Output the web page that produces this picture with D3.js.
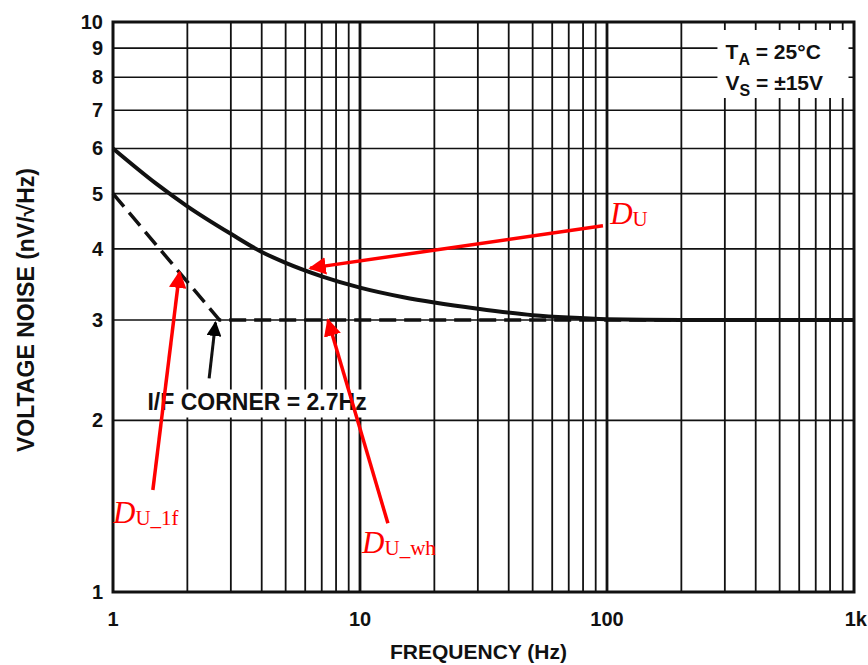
<meta charset="utf-8" />
<style>body { margin: 0; } svg { display: block; }</style>
<svg width="868" height="665"></svg>
<script src="https://cdn.jsdelivr.net/npm/d3@7"></script>
<script>
	// solid curve (total noise)
	var freqTotal = [1, 1.5, 2, 3, 4, 5, 7, 10, 15, 20, 30, 50, 70, 100, 200, 1000];
	var noiseTotal = [6.0, 5.2, 4.75, 4.25, 3.95, 3.78, 3.58, 3.42, 3.29, 3.22, 3.14, 3.06, 3.03, 3.01, 3.0, 3.0];

	// dashed asymptotes: 1/f part and white part
	var freqAsym = [1, 2.7, 1000];
	var noiseAsym = [5.0, 3.0, 3.0];

	var yTicks = [1, 2, 3, 4, 5, 6, 7, 8, 9, 10];
	var xLabels = [[1, '1'], [10, '10'], [100, '100'], [1000, '1k']];

	// annotation arrows [fromF, fromV, toF, toV]
	var redArrows = [
		[96.3, 4.39, 6.28, 3.7],
		[1.45, 1.51, 1.86, 3.64],
		[12.97, 1.32, 7.42, 3.0]
	];
	var cornerArrow = [2.45, 2.37, 2.6, 2.97];

	// red labels [f, value, subscript]
	var redLabels = [[103, 4.42, 'U'], [1, 1.32, 'U_1f'], [10.2, 1.17, 'U_wh']];

	var svg = d3.select('svg'),
		margin = { left: 113, right: 14, top: 22, bottom: 73 },
		width = +svg.attr('width') - margin.left - margin.right,
		height = +svg.attr('height') - margin.top - margin.bottom;

	svg.append('rect').attr('width', 868).attr('height', 665).attr('fill', '#fff');

	var x = d3.scaleLog().domain([1, 1000]).range([0, width]);
	var y = d3.scaleLog().domain([1, 10]).range([height, 0]);

	var g = svg.append('g').attr('transform', 'translate(' + margin.left + ',' + margin.top + ')');

	var defs = svg.append('defs');
	function marker(id, color) {
		defs.append('marker')
			.attr('id', id)
			.attr('viewBox', '0 0 10 10')
			.attr('refX', 9).attr('refY', 5)
			.attr('markerWidth', 5).attr('markerHeight', 5)
			.attr('markerUnits', 'strokeWidth')
			.attr('orient', 'auto')
			.append('path').attr('d', 'M0,0L10,5L0,10z').attr('fill', color);
	}
	marker('redHead', '#ff0000');
	marker('blackHead', '#000');

	// grid
	var xGrid = [];
	[1, 10, 100].forEach(d => { for (var i = 1; i < 10; i++) xGrid.push(d * i); });
	xGrid.push(1000);

	g.selectAll('.vgrid').data(xGrid).enter().append('line')
		.attr('x1', d => x(d)).attr('x2', d => x(d))
		.attr('y1', 0).attr('y2', height)
		.attr('stroke', '#111')
		.attr('stroke-width', d => (d === 10 || d === 100) ? 2.8 : 1.8);

	g.selectAll('.hgrid').data(yTicks).enter().append('line')
		.attr('x1', 0).attr('x2', width)
		.attr('y1', d => y(d)).attr('y2', d => y(d))
		.attr('stroke', '#111')
		.attr('stroke-width', 1.6);

	g.append('rect').attr('width', width).attr('height', height)
		.attr('fill', 'none').attr('stroke', '#111').attr('stroke-width', 3);

	// conditions box
	var cond = g.append('g').attr('font-family', 'Liberation Sans, Arial, sans-serif')
		.attr('font-weight', 'bold').attr('font-size', 21).attr('fill', '#111');
	cond.append('rect').attr('x', x(280)).attr('y', 8).attr('width', x(950) - x(280)).attr('height', 68).attr('fill', '#fff');
	var t1 = cond.append('text').attr('x', x(302)).attr('y', 37);
	t1.append('tspan').text('T');
	t1.append('tspan').attr('font-size', 16).attr('dy', 6).text('A');
	t1.append('tspan').attr('dy', -6).text(' = 25\u00b0C');
	var t2 = cond.append('text').attr('x', x(302)).attr('y', 68);
	t2.append('tspan').text('V');
	t2.append('tspan').attr('font-size', 16).attr('dy', 6).text('S');
	t2.append('tspan').attr('dy', -6).text(' = \u00b115V');

	// corner label
	var corner = g.append('g');
	var cbg = corner.append('rect').attr('fill', '#fff');
	var ctext = corner.append('text')
		.attr('x', x(3.83)).attr('y', y(2.09))
		.attr('text-anchor', 'middle')
		.attr('font-family', 'Liberation Sans, Arial, sans-serif')
		.attr('font-weight', 'bold').attr('font-size', 23).attr('fill', '#111')
		.text('I/F CORNER = 2.7Hz');
	var bb = ctext.node().getBBox();
	cbg.attr('x', bb.x - 2).attr('y', bb.y + 1).attr('width', bb.width + 4).attr('height', bb.height + 2);

	// curves
	var line = d3.line().x(d => x(d[0])).y(d => y(d[1]));

	g.append('path')
		.datum(d3.zip(freqAsym, noiseAsym))
		.attr('d', line)
		.attr('fill', 'none').attr('stroke', '#111')
		.attr('stroke-width', 3.5).attr('stroke-dasharray', '17,8');

	g.append('path')
		.datum(d3.zip(freqTotal, noiseTotal))
		.attr('d', d3.line().curve(d3.curveMonotoneX).x(d => x(d[0])).y(d => y(d[1])))
		.attr('fill', 'none').attr('stroke', '#111').attr('stroke-width', 4);

	// arrows
	g.selectAll('.redArrow').data(redArrows).enter().append('line')
		.attr('x1', d => x(d[0])).attr('y1', d => y(d[1]))
		.attr('x2', d => x(d[2])).attr('y2', d => y(d[3]))
		.attr('stroke', '#ff0000').attr('stroke-width', 3.5)
		.attr('marker-end', 'url(#redHead)');

	g.append('line')
		.attr('x1', x(cornerArrow[0])).attr('y1', y(cornerArrow[1]))
		.attr('x2', x(cornerArrow[2])).attr('y2', y(cornerArrow[3]))
		.attr('stroke', '#111').attr('stroke-width', 3)
		.attr('marker-end', 'url(#blackHead)');

	// red labels
	redLabels.forEach(d => {
		var t = g.append('text')
			.attr('x', x(d[0])).attr('y', y(d[1]))
			.attr('font-family', 'Liberation Serif, Times New Roman, serif')
			.attr('fill', '#ff0000');
		t.append('tspan').attr('font-style', 'italic').attr('font-size', 31).text('D');
		t.append('tspan').attr('font-size', 21).attr('dy', 2).text(d[2]);
	});

	// tick labels
	var lab = svg.append('g')
		.attr('font-family', 'Liberation Sans, Arial, sans-serif')
		.attr('font-weight', 'bold').attr('font-size', 20).attr('fill', '#111');

	lab.selectAll('.ylab').data(yTicks).enter().append('text')
		.attr('x', margin.left - 10).attr('y', d => margin.top + y(d) + 7)
		.attr('text-anchor', 'end')
		.text(d => d);

	lab.selectAll('.xlab').data(xLabels).enter().append('text')
		.attr('x', d => margin.left + x(d[0])).attr('y', margin.top + height + 34)
		.attr('text-anchor', d => d[0] === 1000 ? 'end' : 'middle')
		.attr('dx', d => d[0] === 1000 ? 13 : 0)
		.text(d => d[1]);

	lab.append('text')
		.attr('x', margin.left + width / 2 - 5).attr('y', 659)
		.attr('text-anchor', 'middle')
		.attr('font-size', 21)
		.text('FREQUENCY (Hz)');

	lab.append('text')
		.attr('transform', 'translate(34,310) rotate(-90)')
		.attr('text-anchor', 'middle')
		.attr('font-size', 23)
		.text('VOLTAGE NOISE (nV/\u221aHz)');
</script>
